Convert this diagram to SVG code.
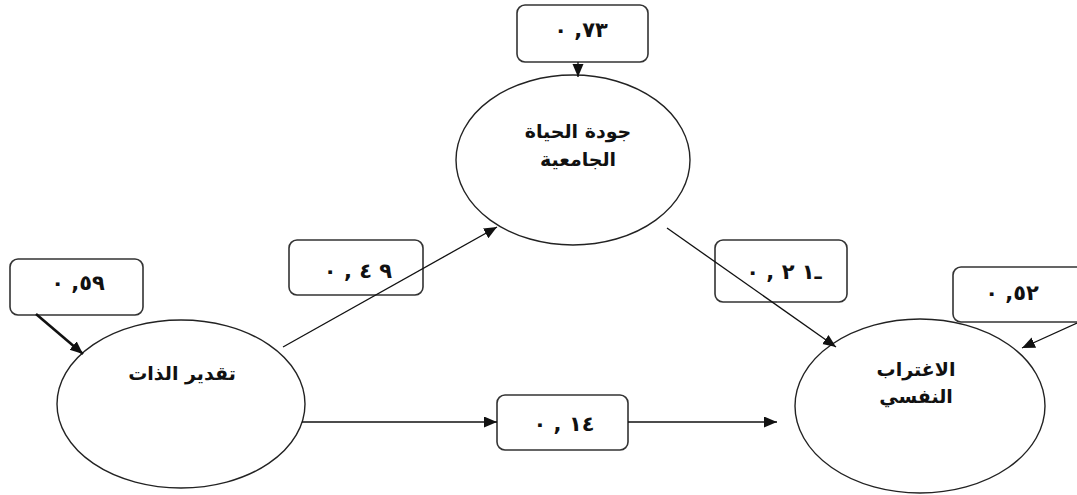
<svg xmlns="http://www.w3.org/2000/svg" width="1077" height="495" viewBox="0 0 1077 495">
<style>
.box{fill:#fff;stroke:#333;stroke-width:1.6}
.ell{fill:#fff;stroke:#222;stroke-width:1.4}
.lbl{font-family:"DejaVu Sans",sans-serif;font-weight:bold;font-size:19px;fill:#111;text-anchor:middle}
.num{font-family:"DejaVu Sans",sans-serif;font-weight:bold;font-size:21px;fill:#111;text-anchor:middle;direction:ltr;unicode-bidi:bidi-override}
.ln{stroke:#111;stroke-width:1.3;fill:none;marker-end:url(#ah)}
</style>
<defs>
<marker id="ah" markerUnits="userSpaceOnUse" markerWidth="14" markerHeight="12" refX="13" refY="5.5" orient="auto">
<path d="M0,0 L13,5.5 L0,11 z" fill="#111"/>
</marker>
</defs>
<rect width="1077" height="495" fill="#fff"/>
<g id="node-e73">
<rect class="box" x="517" y="5" width="131" height="57" rx="8"/>
<text class="num" x="581" y="37">٠ ,٧٣</text>
</g>
<g id="node-quality">
<ellipse class="ell" cx="573" cy="160" rx="117" ry="85"/>
<text class="lbl" x="578" y="138">جودة الحياة</text>
<text class="lbl" x="578" y="166">الجامعية</text>
</g>
<g id="node-e59">
<rect class="box" x="10" y="259" width="133" height="56" rx="8"/>
<text class="num" x="78" y="290">٠ ,٥٩</text>
</g>
<g id="node-self">
<ellipse class="ell" cx="181" cy="404" rx="124" ry="84"/>
<text class="lbl" x="182" y="380">تقدير الذات</text>
</g>
<g id="node-c49">
<rect class="box" x="289" y="240" width="134" height="55" rx="8"/>
<text class="num" x="358" y="278">٠ , ٤ ٩</text>
</g>
<g id="node-c21">
<rect class="box" x="715" y="240" width="132" height="62" rx="8"/>
<text class="num" x="784" y="279">٠ , ٢ ١ـ</text>
</g>
<g id="node-e52">
<rect class="box" x="953" y="267" width="140" height="55" rx="8"/>
<text class="num" x="1012" y="300">٠ ,٥٢</text>
</g>
<g id="node-alien">
<ellipse class="ell" cx="920" cy="406" rx="125" ry="87"/>
<text class="lbl" x="916" y="376">الاغتراب</text>
<text class="lbl" x="916" y="403">النفسي</text>
</g>
<g id="node-c14">
<rect class="box" x="497" y="395" width="131" height="55" rx="8"/>
<text class="num" x="564" y="431">٠ , ١٤</text>
</g>
<g id="connectors">
<line class="ln" x1="578" y1="62" x2="578" y2="77"/>
<line class="ln" x1="36" y1="314" x2="83" y2="354" style="stroke-width:2.6"/>
<line class="ln" x1="283" y1="347" x2="497" y2="227"/>
<line class="ln" x1="667" y1="228" x2="836" y2="347"/>
<line class="ln" x1="1077" y1="323" x2="1022" y2="348"/>
<line class="ln" x1="302" y1="422" x2="497" y2="422"/>
<line class="ln" x1="628" y1="422" x2="777" y2="422"/>
</g>
</svg>
